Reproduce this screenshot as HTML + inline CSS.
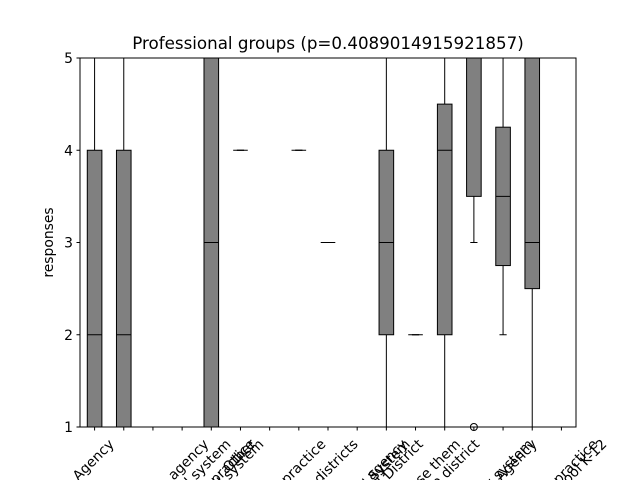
<!DOCTYPE html>
<html><head><meta charset="utf-8"><style>
body{margin:0;background:#fff;overflow:hidden;width:640px;height:480px}
svg{display:block;overflow:hidden;font-family:"DejaVu Sans","Liberation Sans",sans-serif}
</style></head><body>
<svg id="chart" width="640" height="480">
<rect width="640" height="480" fill="#fff"/>
<text x="328" y="49" font-size="16.7" text-anchor="middle">Professional groups (p=0.4089014915921857)</text>
<text transform="translate(53,242.5) rotate(-90)" font-size="13.9" text-anchor="middle">responses</text>
<g id="marks"></g>
<rect x="80" y="58" width="496" height="369" fill="none" stroke="#000" stroke-width="1"/>
</svg>
<script>
const categories=["Agency","State or federal education agency","Public or private school system","Independent private practice","Public school system","Other","Group clinical practice","Multiple school districts","State or local education agency","Public school System","School District","Where I use them","Single district","State university system","State Agency","Individual private practice","Public school K-12"];
const q1=[1,1,5,5,1,4,5,4,3,1,2,2,2,3.5,2.75,2.5,5];
const med=[2,2,5,5,3,4,5,4,3,1,3,2,4,5,3.5,3,5];
const q3=[4,4,5,5,5,4,5,4,3,1,4,2,4.5,5,4.25,5,5];
const wlo=[1,1,5,5,1,4,5,4,3,1,1,2,1,3,2,1,5];
const whi=[5,5,5,5,5,4,5,4,3,1,5,2,5,5,5,5,5];
const outliers=[[],[],[],[],[],[],[],[],[],[],[],[],[],[1],[],[],[]];
const yTicks=[1,2,3,4,5];

const X0=80,X1=576,Y0=427,Y1=58;
const n=categories.length;
const xs=i=>X0+(X1-X0)*(i+0.5)/n;
const ys=v=>Y0-(v-1)/(5-1)*(Y0-Y1);
const NS="http://www.w3.org/2000/svg";
const g=document.getElementById('marks');
function mk(tag,attrs,parent){const e=document.createElementNS(NS,tag);for(const k in attrs)e.setAttribute(k,attrs[k]);(parent||g).appendChild(e);return e;}
const hw=7.3;
yTicks.forEach(t=>{
  const tk=mk('line',{x1:X0-3.5,x2:X0,y1:ys(t),y2:ys(t),stroke:'#000'});
  
  
  const tl=mk('text',{x:X0-7,y:ys(t)+5,'font-size':13.9,'text-anchor':'end'});
  tl.textContent=t;
  
  
});
for(let i=0;i<n;i++){
  const x=xs(i);
  const bg=mk('g',{});
  
  
  mk('line',{x1:x,x2:x,y1:ys(q3[i]),y2:ys(whi[i]),stroke:'#000'},bg);
  mk('line',{x1:x,x2:x,y1:ys(q1[i]),y2:ys(wlo[i]),stroke:'#000'},bg);
  mk('line',{x1:x-3.6,x2:x+3.6,y1:ys(whi[i]),y2:ys(whi[i]),stroke:'#000'},bg);
  mk('line',{x1:x-3.6,x2:x+3.6,y1:ys(wlo[i]),y2:ys(wlo[i]),stroke:'#000'},bg);
  mk('rect',{x:x-hw,y:ys(q3[i]),width:2*hw,height:Math.max(0,ys(q1[i])-ys(q3[i])),fill:'#808080',stroke:'#000'},bg);
  mk('line',{x1:x-hw,x2:x+hw,y1:ys(med[i]),y2:ys(med[i]),stroke:'#000'},bg);
  outliers[i].forEach(o=>mk('circle',{cx:x,cy:ys(o),r:3.5,fill:'none',stroke:'#000'},bg));
  const tk=mk('line',{x1:x,x2:x,y1:Y0,y2:Y0+3.5,stroke:'#000'});
  
  
  const tl=mk('text',{'font-size':13.9,'text-anchor':'end'});
  tl.textContent=categories[i];
  
  
  const L=tl.getComputedTextLength();
  const W=(L+14)*0.7071;
  const ax=x+W/2-3, ay=Y0+7+11;
  tl.setAttribute('transform','translate('+ax+','+ay+') rotate(-45)');
}
</script>
</body></html>
